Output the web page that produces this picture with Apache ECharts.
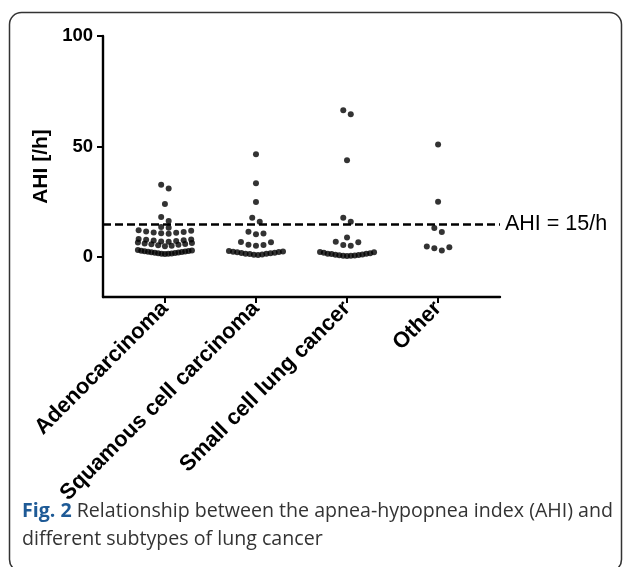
<!DOCTYPE html>
<html>
<head>
<meta charset="utf-8">
<script src="https://cdn.jsdelivr.net/npm/echarts@6/dist/echarts.min.js"></script>
<style>
html,body{margin:0;padding:0;background:#fff;}
#chart{width:630px;height:567px;}
</style>
</head>
<body>
<div id="chart"></div>
<script>
// ---- data ----
const categories = ['Adenocarcinoma', 'Squamous cell carcinoma', 'Small cell lung cancer', 'Other'];
const adenocarcinoma = [1.4,1.5,1.6,1.7,1.8,1.9,2.0,2.1,2.2,2.3,2.5,2.6,2.7,2.8,2.9,3.0,3.2,
  5.0,5.2,5.4,5.6,5.8,6.0,6.2,6.4,6.6,
  7.0,7.1,7.3,7.5,7.7,7.9,8.0,8.2,
  10.6,10.8,11.0,11.2,11.4,11.6,11.9,12.2,
  13.3,13.6, 16.4,18.2, 24.0, 31.0,32.8];
const squamous = [1.0,1.1,1.2,1.4,1.5,1.6,1.8,1.9,2.0,2.2,2.3,2.5,2.6,2.8,
  5.2,5.5,5.6,6.7,6.9, 10.4,10.7,11.5, 16.0,17.8, 25.0,33.4,46.5];
const smallCell = [0.5,0.6,0.7,0.8,0.9,1.0,1.1,1.2,1.4,1.5,1.6,1.8,2.0,2.2,2.3,
  5.2,5.5,6.8,7.0, 8.9, 16.0,17.8, 43.8, 64.6,66.4];
const other = [3.0,4.0,4.5,4.8, 11.4,13.2, 25.1, 51.0];
const yTicks = [0, 50, 100];
const threshold = 15;
const thresholdLabel = 'AHI = 15/h';
const captionBold = 'Fig. 2';
const captionLine1 = ' Relationship between the apnea-hypopnea index (AHI) and';
const captionLine2 = 'different subtypes of lung cancer';

// ---- beeswarm layout (row binning, centre-out placement) ----
const BIN = 1.9;          // y-units per row
const DOT_GAP = 7.5 / 91; // x-units between neighbouring dots
const MAX_W = 54 / 91;    // max row width in x-units
function swarm(values, pos) {
  const sorted = values.slice().sort((a, b) => a - b);
  const rows = []; let cur = null;
  sorted.forEach(v => {
    if (!cur || v >= cur.start + BIN) { cur = { start: v, vals: [] }; rows.push(cur); }
    cur.vals.push(v);
  });
  const pts = [];
  rows.forEach(r => {
    const n = r.vals.length;
    const gap = n > 1 ? Math.min(DOT_GAP, MAX_W / (n - 1)) : 0;
    const slots = [];
    if (n % 2) { slots.push(0); for (let k = 1; slots.length < n; k++) { slots.push(k); if (slots.length < n) slots.push(-k); } }
    else { for (let k = 0.5; slots.length < n; k++) { slots.push(k); slots.push(-k); } }
    r.vals.forEach((v, i) => pts.push([pos + slots[i] * gap, v]));
  });
  return pts;
}
const groups = [adenocarcinoma, squamous, smallCell, other];
const catPos = categories.map((c, i) => i + 1);

const FONT = '"Liberation Sans", Arial, Helvetica, sans-serif';
const chart = echarts.init(document.getElementById('chart'), null, { renderer: 'canvas' });
const series = groups.map((g, i) => ({
  type: 'scatter',
  data: swarm(g, catPos[i]),
  symbolSize: 6,
  itemStyle: { color: '#000' },
  silent: true,
  z: 3
}));
series[0].markLine = {
  silent: true,
  symbol: ['none', 'none'],
  lineStyle: { type: [8, 4], color: '#000', width: 2.5 },
  label: { show: true, position: 'end', formatter: thresholdLabel, color: '#000',
           fontFamily: FONT, fontSize: 21.5, distance: 5 },
  data: [{ yAxis: threshold }]
};
chart.setOption({
  animation: false,
  backgroundColor: '#fff',
  grid: { left: 103, right: 130, top: 36, bottom: 270 },
  xAxis: {
    type: 'value', min: 0.32, max: 4.68,
    axisLine: { onZero: false, lineStyle: { color: '#000', width: 2.4 } },
    axisTick: { show: true, customValues: catPos, length: 6, inside: false, lineStyle: { color: '#000', width: 2 } },
    axisLabel: { customValues: catPos, rotate: 45, margin: 8, color: '#000', fontFamily: FONT,
                 fontWeight: 'bold', fontSize: 22,
                 formatter: v => categories[Math.round(v) - 1] || '' },
    splitLine: { show: false }
  },
  yAxis: {
    type: 'value', min: -18, max: 100,
    name: 'AHI [/h]', nameLocation: 'middle', nameGap: 40,
    nameTextStyle: { color: '#000', fontFamily: FONT, fontWeight: 'bold', fontSize: 21 },
    axisLine: { show: true, lineStyle: { color: '#000', width: 2.4 } },
    axisTick: { show: true, customValues: yTicks, length: 6, lineStyle: { color: '#000', width: 2 } },
    axisLabel: { customValues: yTicks, margin: 10, color: '#000', fontFamily: FONT,
                 fontWeight: 'bold', fontSize: 18.5 },
    splitLine: { show: false }
  },
  graphic: [
    { type: 'rect', shape: { x: 9.5, y: 12.5, width: 612, height: 559, r: 12 },
      style: { fill: 'none', stroke: '#333', lineWidth: 1.5 }, silent: true },
    { type: 'text', left: 22, top: 501,
      style: { text: '{b|' + captionBold + '}{n|' + captionLine1 + '}\n{n|' + captionLine2 + '}',
               rich: {
                 b: { fontFamily: '"Open Sans", sans-serif', fontWeight: 'bold', fontSize: 19.6, fill: '#1e5a96', lineHeight: 28 },
                 n: { fontFamily: '"Open Sans", sans-serif', fontSize: 19.6, fill: '#333', lineHeight: 28 }
               } } }
  ],
  series: series
});
</script>
</body>
</html>
